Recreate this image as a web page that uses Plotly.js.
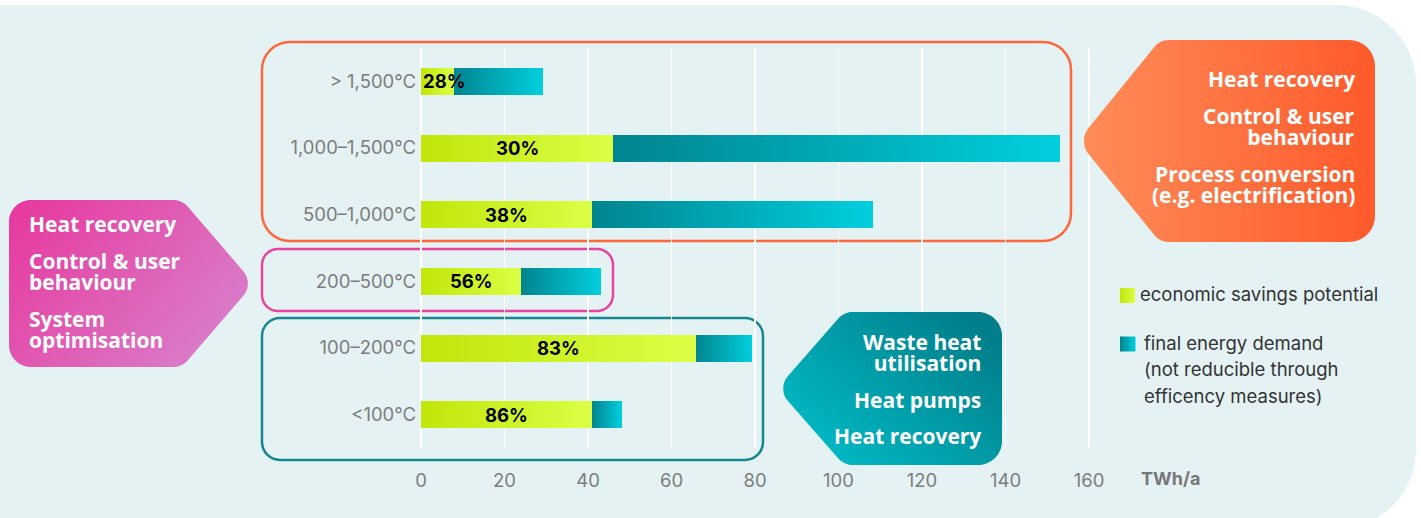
<!DOCTYPE html>
<html><head><meta charset="utf-8">
<script src="https://cdn.plot.ly/plotly-3.0.1.min.js"></script>
<style>html,body{margin:0;padding:0;background:#fff;}#chart{width:1421px;height:518px;}</style>
</head><body><div id="chart"></div>
<script>
// ---------- data ----------
const categories = ['> 1,500°C', '1,000–1,500°C', '500–1,000°C', '200–500°C', '100–200°C', '<100°C'];
const savingsPotential = [7.9, 46.0, 41.0, 24.0, 65.9, 41.0];     // TWh/a, economic savings potential
const remainingDemand = [21.3, 107.0, 67.3, 19.1, 13.4, 7.1];      // TWh/a, not reducible
const shareLabels = ['28%', '30%', '38%', '56%', '83%', '86%'];
const xTickValues = [0, 20, 40, 60, 80, 100, 120, 140, 160];
const xUnitLabel = 'TWh/a';
const legendLabels = ['economic savings potential', 'final energy demand', '(not reducible through', 'efficency measures)'];
const highTempMeasures = [['Heat recovery'], ['Control & user', 'behaviour'], ['Process conversion', '(e.g. electrification)']];
const midTempMeasures = [['Heat recovery'], ['Control & user', 'behaviour'], ['System', 'optimisation']];
const lowTempMeasures = [['Waste heat', 'utilisation'], ['Heat pumps'], ['Heat recovery']];

// ---------- geometry helpers ----------
const W = 1421, H = 518;
const M = {l: 417, r: 328, t: 48, b: 70};
const PW = W - M.l - M.r, PH = H - M.t - M.b;
const pxX = px => (px - M.l) / PW;
const pxY = py => 1 - (py - M.t) / PH;
const pt = (x, y) => pxX(x).toFixed(5) + ',' + pxY(y).toFixed(5);

function roundedPoly(verts) {
  // verts: [x, y, r]
  const k = 0.5523;
  const n = verts.length;
  let d = '';
  for (let i = 0; i < n; i++) {
    const v = verts[i], p = verts[(i - 1 + n) % n], q = verts[(i + 1) % n];
    const r = v[2];
    const lp = Math.hypot(p[0] - v[0], p[1] - v[1]);
    const lq = Math.hypot(q[0] - v[0], q[1] - v[1]);
    const a = [v[0] + (p[0] - v[0]) * r / lp, v[1] + (p[1] - v[1]) * r / lp];
    const b = [v[0] + (q[0] - v[0]) * r / lq, v[1] + (q[1] - v[1]) * r / lq];
    const c1 = [a[0] + (v[0] - a[0]) * k, a[1] + (v[1] - a[1]) * k];
    const c2 = [b[0] + (v[0] - b[0]) * k, b[1] + (v[1] - b[1]) * k];
    d += (i === 0 ? 'M' : ' L') + pt(a[0], a[1]);
    d += ' C' + pt(c1[0], c1[1]) + ' ' + pt(c2[0], c2[1]) + ' ' + pt(b[0], b[1]);
  }
  return d + ' Z';
}
const rrect = (x0, y0, x1, y1, r) => roundedPoly([[x0, y0, r], [x1, y0, r], [x1, y1, r], [x0, y1, r]]);

// ---------- traces ----------
const traces = [
  {type: 'bar', orientation: 'h', y: categories, x: savingsPotential, name: legendLabels[0],
   marker: {color: '#cff022', line: {width: 0}}, width: 0.405, hoverinfo: 'skip'},
  {type: 'bar', orientation: 'h', y: categories, x: remainingDemand, name: legendLabels[1],
   marker: {color: '#00a8b5', line: {width: 0}}, width: 0.405, hoverinfo: 'skip'}
];

// ---------- shapes ----------
const gradFor = {};
const shapes = [];
function addShape(s, grad) { if (grad) gradFor[shapes.length] = grad; shapes.push(s); }
// background panel
addShape({type: 'path', xref: 'paper', yref: 'paper', layer: 'below',
  path: roundedPoly([[-10, 5, 0], [1416, 5, 80], [1416, 529, 80], [-10, 529, 0]]),
  fillcolor: '#e4f2f3', line: {width: 0}});
// group outlines
addShape({type: 'path', xref: 'paper', yref: 'paper', layer: 'below', path: rrect(262, 42, 1071, 241, 28),
  fillcolor: 'rgba(0,0,0,0)', line: {color: '#ff673a', width: 2.5}});
addShape({type: 'path', xref: 'paper', yref: 'paper', layer: 'below', path: rrect(262, 249, 613, 311, 16),
  fillcolor: 'rgba(0,0,0,0)', line: {color: '#e6449e', width: 2.5}});
addShape({type: 'path', xref: 'paper', yref: 'paper', layer: 'below', path: rrect(262, 318, 763, 460, 18),
  fillcolor: 'rgba(0,0,0,0)', line: {color: '#17878f', width: 2.5}});
// callouts
addShape({type: 'path', xref: 'paper', yref: 'paper', layer: 'above',
  path: roundedPoly([[1160, 40, 8], [1375, 40, 26], [1375, 242, 26], [1160, 242, 8], [1078, 141, 16]]),
  fillcolor: '#ff7142', line: {width: 0}}, 'gOrange');
addShape({type: 'path', xref: 'paper', yref: 'paper', layer: 'above',
  path: roundedPoly([[9, 200, 22], [182, 200, 8], [254, 283.5, 16], [182, 367, 8], [9, 367, 22]]),
  fillcolor: '#e055b0', line: {width: 0}}, 'gPink');
addShape({type: 'path', xref: 'paper', yref: 'paper', layer: 'above',
  path: roundedPoly([[844, 312, 8], [1002, 312, 24], [1002, 465, 24], [844, 465, 8], [777, 388.5, 16]]),
  fillcolor: '#00a0ab', line: {width: 0}}, 'gTealCallout');
// legend swatches
addShape({type: 'rect', xref: 'paper', yref: 'paper', layer: 'above',
  x0: pxX(1120), x1: pxX(1135), y0: pxY(288), y1: pxY(303), fillcolor: '#cff022', line: {width: 0}}, 'gGreen');
addShape({type: 'rect', xref: 'paper', yref: 'paper', layer: 'above',
  x0: pxX(1120), x1: pxX(1135.5), y0: pxY(336.5), y1: pxY(351.5), fillcolor: '#00a8b5', line: {width: 0}}, 'gTeal');

// ---------- annotations ----------
const annotations = [];
const tightLines = [];   // [annotation index, font size, gap px]
// percentage labels on the savings segments
categories.forEach((c, i) => {
  const small = savingsPotential[i] < 10;
  annotations.push({xref: 'x', yref: 'y', x: small ? 0 : savingsPotential[i] / 2, y: c,
    xanchor: small ? 'left' : 'center', yanchor: 'middle', showarrow: false,
    text: shareLabels[i], font: {family: 'Inter, sans-serif', size: 18.5, weight: 700, color: '#000'}});
});
const CALLOUT_SIZE = 21, CALLOUT_GAP = 21.5;
const calloutFont = {family: 'Open Sans, sans-serif', size: CALLOUT_SIZE, weight: 700, color: '#ffffff'};
function calloutText(groups, ys, x, anchor) {
  groups.forEach((g, i) => {
    if (g.length > 1) tightLines.push([annotations.length, CALLOUT_SIZE, CALLOUT_GAP]);
    annotations.push({xref: 'paper', yref: 'paper', x: pxX(x), y: pxY(ys[i]),
      xanchor: anchor, yanchor: 'middle', align: anchor, showarrow: false,
      text: g.join('<br>'), font: calloutFont, borderpad: 0});
  });
}
calloutText(highTempMeasures, [79, 126.5, 184.5], 1356, 'right');
calloutText(midTempMeasures, [224, 271, 329], 28, 'left');
calloutText(lowTempMeasures, [352.5, 400, 436], 982, 'right');
// legend text
const legFont = {family: 'Inter, sans-serif', size: 18.5, color: '#333333'};
[[legendLabels[0], 1139, 294], [legendLabels[1], 1143, 343], [legendLabels[2], 1143, 369], [legendLabels[3], 1143, 396]]
  .forEach(([t, x, y]) => annotations.push({xref: 'paper', yref: 'paper', x: pxX(x), y: pxY(y),
    xanchor: 'left', yanchor: 'middle', showarrow: false, text: t, font: legFont, borderpad: 0}));
// unit label
annotations.push({xref: 'paper', yref: 'paper', x: pxX(1170), y: pxY(479), xanchor: 'center', yanchor: 'middle',
  showarrow: false, text: xUnitLabel, font: {family: 'Inter, sans-serif', size: 18, weight: 700, color: '#777777'}});

const tickFont = {family: 'Inter, sans-serif', size: 18.5, color: '#7d7d7d'};
const layout = {
  width: W, height: H, margin: M,
  paper_bgcolor: '#ffffff', plot_bgcolor: 'rgba(0,0,0,0)',
  barmode: 'stack', showlegend: false,
  xaxis: {range: [-0.958, 160.958], tickvals: xTickValues, ticktext: xTickValues.map(String),
    showgrid: true, gridcolor: '#ffffff', gridwidth: 1.6, zeroline: false, showline: false,
    ticks: '', tickfont: tickFont, ticklabelstandoff: 19, fixedrange: true},
  yaxis: {type: 'category', range: [5.5, -0.5], showgrid: false, zeroline: false, showline: false,
    ticks: '', tickfont: tickFont, ticklabelstandoff: 0, fixedrange: true},
  shapes: shapes, annotations: annotations
};

const gd = document.getElementById('chart');
Plotly.newPlot(gd, traces, layout, {staticPlot: true, displayModeBar: false}).then(() => {
  const svg = gd.querySelector('svg.main-svg');
  const NS = 'http://www.w3.org/2000/svg';
  let defs = svg.querySelector('defs');
  if (!defs) { defs = document.createElementNS(NS, 'defs'); svg.insertBefore(defs, svg.firstChild); }
  const grads = {
    gGreen: ['#c0e60a', '#dcff45', 0, 0, 1, 0],
    gTeal: ['#00858f', '#00cfde', 0, 0, 1, 0],
    gOrange: ['#ff8c59', '#ff5a2b', 0, 0, 1, 0],
    gPink: ['#e8369d', '#d97bc8', 0, 0, 1, 0.6],
    gTealCallout: ['#00c2ce', '#007e89', 0, 1, 1, 0.2]
  };
  Object.entries(grads).forEach(([id, g]) => {
    const lg = document.createElementNS(NS, 'linearGradient');
    lg.setAttribute('id', id);
    lg.setAttribute('x1', g[2]); lg.setAttribute('y1', g[3]);
    lg.setAttribute('x2', g[4]); lg.setAttribute('y2', g[5]);
    [[0, g[0]], [1, g[1]]].forEach(([o, c]) => {
      const st = document.createElementNS(NS, 'stop');
      st.setAttribute('offset', o); st.setAttribute('stop-color', c);
      lg.appendChild(st);
    });
    defs.appendChild(lg);
  });
  const barTraces = gd.querySelectorAll('.barlayer .trace');
  ['gGreen', 'gTeal'].forEach((id, i) => {
    if (barTraces[i]) barTraces[i].querySelectorAll('path').forEach(p => { p.style.fill = 'url(#' + id + ')'; });
  });
  gd.querySelectorAll('.shapelayer path').forEach(p => {
    const idx = p.getAttribute('data-index');
    if (idx !== null && gradFor[idx]) p.style.fill = 'url(#' + gradFor[idx] + ')';
  });
  // tighten line spacing of two-line callout items (the reference uses a tight leading)
  tightLines.forEach(([idx, size, gap]) => {
    const g = gd.querySelector('g.annotation[data-index="' + idx + '"]');
    if (!g) return;
    const txt = g.querySelector('text');
    if (!txt) return;
    const ls = txt.querySelectorAll('tspan.line');
    if (ls.length < 2) return;
    const orig = 1.3 * size;
    for (let j = 1; j < ls.length; j++) ls[j].setAttribute('dy', gap + 'px');
    const shift = (orig - gap) * (ls.length - 1) / 2;
    const tr = txt.getAttribute('transform') || '';
    txt.setAttribute('transform', (tr + ' translate(0,' + shift.toFixed(2) + ')').trim());
  });
});
</script>
</body></html>
